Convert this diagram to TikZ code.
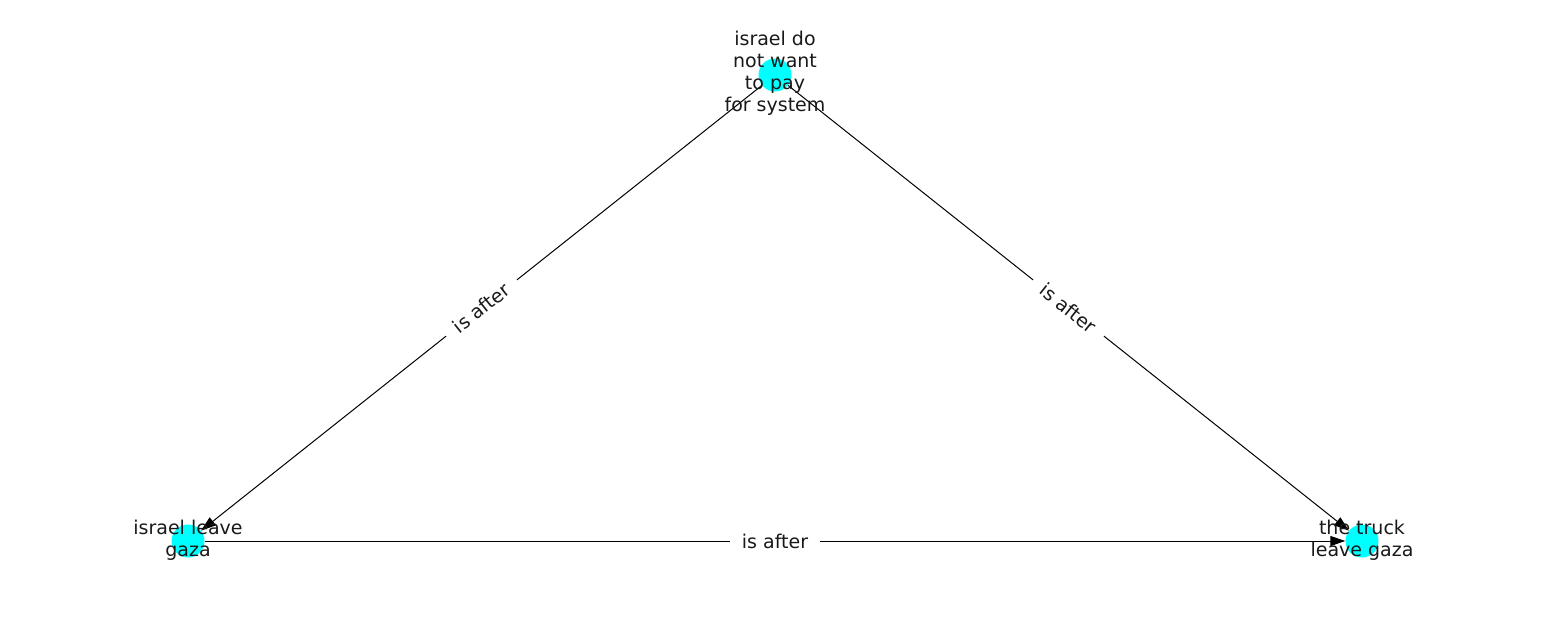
\documentclass[tikz,border=0pt]{standalone}
\usepackage{fontspec}
\setmainfont{DejaVu Sans}
\usetikzlibrary{arrows.meta}
\definecolor{nodecyan}{RGB}{0,255,255}
\begin{document}
\begin{tikzpicture}[x=1pt,y=-1pt,
  dot/.style={circle,fill=nodecyan,minimum size=33pt,inner sep=0pt},
  lbl/.style={align=center,font=\fontsize{19}{22}\selectfont,text=black!90,inner sep=0pt},
  edge/.style={draw=black,line width=1pt,-{Triangle[length=15pt,width=10pt]}},
  elbl/.style={fill=white,font=\fontsize{19}{22}\selectfont,text=black!90,inner xsep=12pt,inner ysep=5pt,sloped}]
\useasboundingbox (0,0) rectangle (1550,616);
\node[dot] (a) at (775,75) {};
\node[dot] (b) at (188,541) {};
\node[dot] (c) at (1362,541) {};
\draw[edge] (a) -- node[elbl,pos=0.5]{is after} (b);
\draw[edge] (a) -- node[elbl,pos=0.5]{is after} (c);
\draw[edge] (b) -- node[elbl,pos=0.5]{is after} (c);
\node[lbl] (ta) at (775,73) {israel do\\not want\\to pay\\for system};
\node[lbl] (tb) at (188,540) {israel leave\\gaza};
\node[lbl] (tc) at (1362,540) {the truck\\leave gaza};
\end{tikzpicture}
\end{document}
